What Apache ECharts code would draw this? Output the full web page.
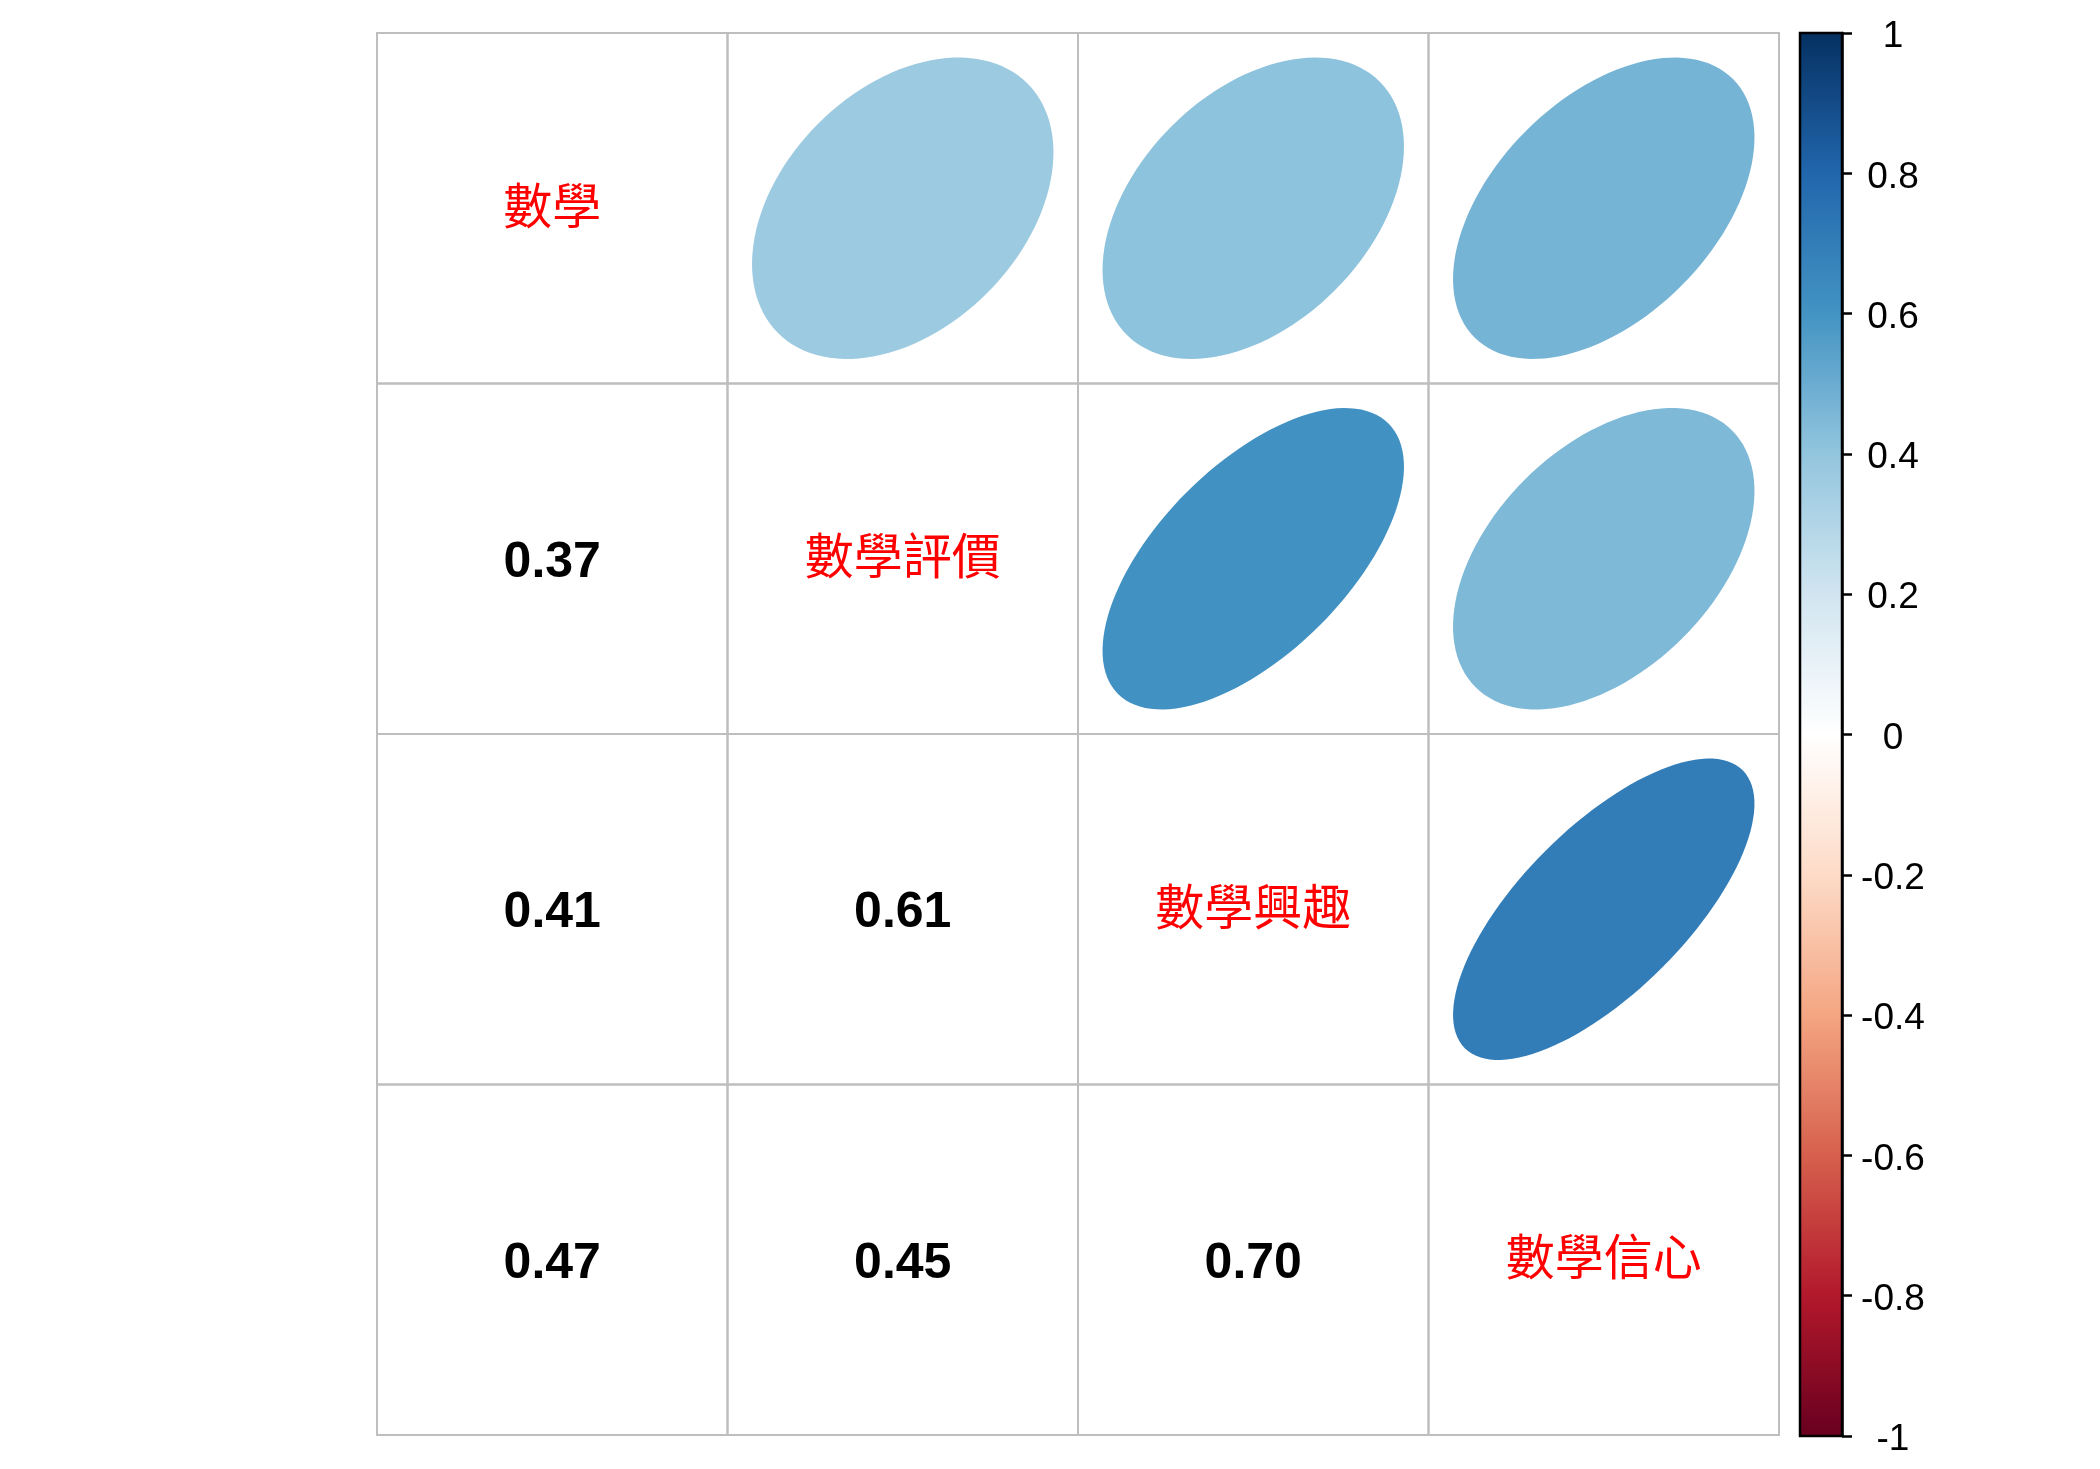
<!DOCTYPE html>
<html>
<head>
<meta charset="utf-8">
<script src="https://cdn.jsdelivr.net/npm/echarts@6/dist/echarts.min.js"></script>
<style>
html,body{margin:0;padding:0;background:#fff;}
#chart{width:2100px;height:1469px;}
</style>
</head>
<body>
<div id="chart"></div>
<script>
// ---- data ----
const variables = ['數學', '數學評價', '數學興趣', '數學信心'];
const corrRow1 = [1.00, 0.37, 0.41, 0.47];
const corrRow2 = [0.37, 1.00, 0.61, 0.45];
const corrRow3 = [0.41, 0.61, 1.00, 0.70];
const corrRow4 = [0.47, 0.45, 0.70, 1.00];
const corrMatrix = [corrRow1, corrRow2, corrRow3, corrRow4];
const paletteRdBu = ['#67001F', '#B2182B', '#D6604D', '#F4A582', '#FDDBC7', '#FFFFFF',
                     '#D1E5F0', '#92C5DE', '#4393C3', '#2166AC', '#053061'];
const colorbarMin = -1, colorbarMax = 1, colorbarStep = 0.2;
const colorbarTicks = [-1, -0.8, -0.6, -0.4, -0.2, 0, 0.2, 0.4, 0.6, 0.8, 1];
const colorbarTickLabels = ['-1', '-0.8', '-0.6', '-0.4', '-0.2', '0', '0.2', '0.4', '0.6', '0.8', '1'];

// ---- build cells ----
const n = variables.length;
const cells = [];
for (let i = 0; i < n; i++) {
  for (let j = 0; j < n; j++) {
    cells.push([j, i, corrMatrix[i][j]]);
  }
}

const chart = echarts.init(document.getElementById('chart'), null, {renderer: 'canvas'});

const ELL = 0.43;
function renderCell(params, api) {
  const j = api.value(0), i = api.value(1), v = api.value(2);
  const tl = api.coord([j, n - i]);
  const sz = api.size([1, 1]);
  const cx = j + 0.5, cy = n - i - 0.5;
  const children = [];
  if (j > i) {
    const a = Math.acos(v);
    const pts = [];
    const m = 120;
    for (let k = 0; k < m; k++) {
      const t = 2 * Math.PI * k / m;
      pts.push(api.coord([cx + ELL * Math.cos(t + a / 2), cy + ELL * Math.cos(t - a / 2)]));
    }
    children.push({type: 'polygon', shape: {points: pts}, style: {fill: api.visual('color'), stroke: null}, z2: 1});
  } else if (j < i) {
    const c = api.coord([cx, cy]);
    children.push({type: 'text', x: c[0], y: c[1] + 4, z2: 5,
      style: {text: v.toFixed(2), fontSize: 50, fontWeight: 'bold', fontFamily: '"Liberation Sans", Arial, sans-serif',
              fill: '#000000', align: 'center', verticalAlign: 'middle'}});
  } else {
    const c = api.coord([cx, cy]);
    children.push({type: 'text', x: c[0], y: c[1] - 3, z2: 5,
      style: {text: variables[i], fontSize: 49, fontFamily: '"Noto Sans CJK TC", "Noto Sans CJK SC", sans-serif',
              fill: '#FF0000', align: 'center', verticalAlign: 'middle'}});
  }
  children.push({type: 'rect', shape: {x: tl[0], y: tl[1], width: sz[0], height: sz[1]},
                 style: {fill: 'none', stroke: '#BEBEBE', lineWidth: 2}, z2: 10});
  return {type: 'group', children: children};
}

function renderBar(params, api) {
  const p0 = api.coord([0, colorbarMax]);
  const p1 = api.coord([1, colorbarMin]);
  const stops = paletteRdBu.slice().reverse().map((c, k) => ({offset: k / (paletteRdBu.length - 1), color: c}));
  const children = [{type: 'rect', shape: {x: p0[0], y: p0[1], width: p1[0] - p0[0], height: p1[1] - p0[1]},
          style: {fill: new echarts.graphic.LinearGradient(0, 0, 0, 1, stops), stroke: '#000', lineWidth: 2.5}}];
  colorbarTicks.forEach((t, k) => {
    const p = api.coord([1, t]);
    children.push({type: 'text', x: p[0] + 51, y: p[1] + 4,
      style: {text: colorbarTickLabels[k], fontSize: 37, fontFamily: '"Liberation Sans", Arial, sans-serif',
              fill: '#000', align: 'center', verticalAlign: 'middle'}});
  });
  return {type: 'group', children: children};
}

const option = {
  backgroundColor: '#ffffff',
  animation: false,
  grid: [
    {left: 377, top: 33, width: 1402, height: 1402},
    {left: 1800, top: 33, width: 42, height: 1403}
  ],
  xAxis: [
    {type: 'value', gridIndex: 0, min: 0, max: n, show: false},
    {type: 'value', gridIndex: 1, min: 0, max: 1, show: false}
  ],
  yAxis: [
    {type: 'value', gridIndex: 0, min: 0, max: n, show: false},
    {type: 'value', gridIndex: 1, min: colorbarMin, max: colorbarMax, interval: colorbarStep, position: 'right',
     axisLine: {show: true, onZero: false, lineStyle: {color: '#000', width: 2.5}}, splitLine: {show: false},
     axisTick: {show: true, inside: false, length: 10, lineStyle: {color: '#000', width: 2.5}},
     axisLabel: {show: false}}
  ],
  visualMap: {
    type: 'continuous', show: false, min: colorbarMin, max: colorbarMax, dimension: 2, seriesIndex: 0,
    inRange: {color: paletteRdBu}
  },
  series: [
    {type: 'custom', xAxisIndex: 0, yAxisIndex: 0, data: cells, renderItem: renderCell, silent: true},
    {type: 'custom', xAxisIndex: 1, yAxisIndex: 1, data: [[0, 0]], renderItem: renderBar, silent: true, z: 1}
  ]
};
chart.setOption(option);
</script>
</body>
</html>
